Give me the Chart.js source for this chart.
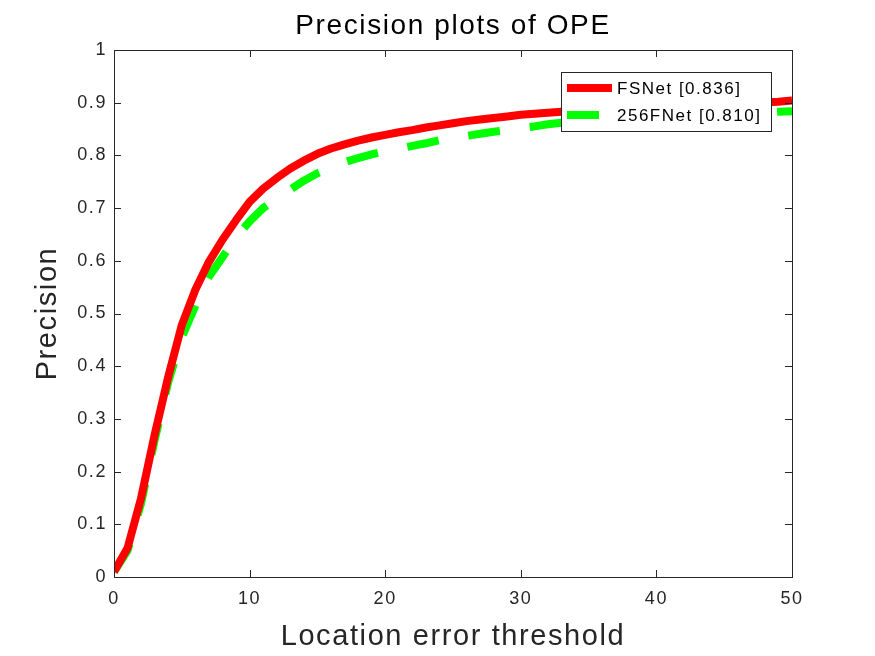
<!DOCTYPE html>
<html>
<head>
<meta charset="utf-8">
<script src="https://cdn.jsdelivr.net/npm/chart.js@4/dist/chart.umd.min.js"></script>
<style>
  html, body { margin: 0; padding: 0; background: #fff; }
  #wrap { width: 875px; height: 656px; }
</style>
</head>
<body>
<div id="wrap"><canvas id="chart" width="875" height="656"></canvas></div>
<script>
// Location error thresholds 0..50
const thresholds = [0,1,2,3,4,5,6,7,8,9,10,11,12,13,14,15,16,17,18,19,20,21,22,23,24,25,
    26,27,28,29,30,31,32,33,34,35,36,37,38,39,40,41,42,43,44,45,46,47,48,49,50];

// values
const fsnet = [0.010,0.055,0.150,0.270,0.380,0.478,0.545,0.598,0.640,0.677,0.712,0.737,0.757,0.775,0.790,0.803,
    0.813,0.821,0.828,0.834,0.839,0.844,0.848,0.853,0.857,0.861,0.865,0.868,0.871,0.874,0.877,0.879,0.881,
    0.883,0.885,0.887,0.888,0.890,0.891,0.892,0.893,0.894,0.895,0.896,0.897,0.898,0.899,0.900,0.901,0.902,0.904];
const fnet256 = [0.010,0.050,0.140,0.260,0.370,0.455,0.515,0.570,0.607,0.645,0.675,0.700,0.718,0.735,0.752,0.766,
    0.777,0.787,0.795,0.802,0.808,0.813,0.818,0.823,0.829,0.833,0.837,0.841,0.845,0.848,0.852,0.855,0.859,
    0.862,0.864,0.866,0.868,0.870,0.871,0.872,0.873,0.874,0.875,0.876,0.877,0.878,0.879,0.880,0.882,0.883,0.884];

const seriesLabels = ['FSNet [0.836]', '256FNet [0.810]'];
const xTicks = [0, 10, 20, 30, 40, 50];
const yTicks = [0, 0.1, 0.2, 0.3, 0.4, 0.5, 0.6, 0.7, 0.8, 0.9, 1];

const AXIS_COLOR = '#262626';
const FONT = "'Liberation Sans', Arial, sans-serif";

// matlab renders text a bit wider than arial, add some letter spacing
const spacingPlugin = {
    id: 'letterSpacing',
    beforeDraw(chart) {
        chart.ctx.letterSpacing = '1.6px';
    }
};

// MATLAB style box with inward ticks on all four sides
const boxPlugin = {
    id: 'matlabBox',
    afterDraw(chart) {
        const { ctx, chartArea: a, scales: { x, y } } = chart;
        const len = 7;
        ctx.save();
        ctx.strokeStyle = AXIS_COLOR;
        ctx.lineWidth = 1;
        ctx.strokeRect(a.left + 0.5, a.top + 0.5, a.right - a.left, a.bottom - a.top);
        ctx.beginPath();
        xTicks.forEach(v => {
            const px = Math.round(x.getPixelForValue(v)) + 0.5;
            ctx.moveTo(px, a.bottom); ctx.lineTo(px, a.bottom - len);
            ctx.moveTo(px, a.top); ctx.lineTo(px, a.top + len);
        });
        yTicks.forEach(v => {
            const py = Math.round(y.getPixelForValue(v)) + 0.5;
            ctx.moveTo(a.left, py); ctx.lineTo(a.left + len, py);
            ctx.moveTo(a.right, py); ctx.lineTo(a.right - len, py);
        });
        ctx.stroke();
        ctx.restore();
    }
};

// boxed legend in the upper right corner of the axes
const legendPlugin = {
    id: 'boxLegend',
    afterDraw(chart) {
        const { ctx, chartArea: a } = chart;
        const right = a.right - 21, top = a.top + 22;
        const w = 210, h = 59;
        const left = right - w;
        ctx.save();
        ctx.fillStyle = '#fff';
        ctx.fillRect(left, top, w, h);
        ctx.strokeStyle = AXIS_COLOR;
        ctx.lineWidth = 1;
        ctx.strokeRect(left + 0.5, top + 0.5, w, h);
        chart.data.datasets.forEach((ds, i) => {
            const cy = top + 16 + i * 27;
            ctx.beginPath();
            ctx.strokeStyle = ds.borderColor;
            ctx.lineWidth = ds.borderWidth;
            ctx.lineCap = 'butt';
            ctx.setLineDash(ds.borderDash || []);
            ctx.moveTo(left + 6, cy);
            ctx.lineTo(left + 51, cy);
            ctx.stroke();
            ctx.setLineDash([]);
            ctx.fillStyle = '#000';
            ctx.font = '17px ' + FONT;
            ctx.letterSpacing = '1.5px';
            ctx.textBaseline = 'middle';
            ctx.textAlign = 'left';
            ctx.fillText(ds.label, left + 56, cy + 1);
        });
        ctx.restore();
    }
};

new Chart(document.getElementById('chart'), {
    type: 'line',
    data: {
        labels: thresholds,
        datasets: [
            {
                label: seriesLabels[0],
                data: fsnet,
                borderColor: '#ff0000',
                borderWidth: 8,
                pointRadius: 0,
                tension: 0,
                borderCapStyle: 'butt',
                borderJoinStyle: 'round'
            },
            {
                label: seriesLabels[1],
                data: fnet256,
                borderColor: '#00ff00',
                borderWidth: 8,
                borderDash: [32, 30],
                pointRadius: 0,
                tension: 0,
                borderCapStyle: 'butt',
                borderJoinStyle: 'round'
            }
        ]
    },
    options: {
        responsive: false,
        animation: false,
        layout: { padding: { left: 0, right: 83, top: 0, bottom: 0 } },
        plugins: {
            legend: { display: false },
            tooltip: { enabled: false },
            title: {
                display: true,
                fullSize: false,
                text: 'Precision plots of OPE',
                color: '#000',
                font: { family: FONT, size: 28, weight: 'normal', lineHeight: 1.2 },
                padding: { top: 9.5, bottom: 6.9 }
            }
        },
        scales: {
            x: {
                type: 'linear',
                min: 0,
                max: 50,
                afterFit: s => { s.height = 79; },
                afterBuildTicks: s => { s.ticks = xTicks.map(v => ({ value: v })); },
                grid: { display: false, drawTicks: false },
                border: { display: false },
                ticks: {
                    color: AXIS_COLOR,
                    padding: 11,
                    maxRotation: 0,
                    font: { family: FONT, size: 18 },
                    callback: v => String(v)
                },
                title: {
                    display: true,
                    text: 'Location error threshold',
                    color: AXIS_COLOR,
                    font: { family: FONT, size: 29, lineHeight: 1.2 },
                    padding: { top: 0, bottom: 2 }
                }
            },
            y: {
                type: 'linear',
                min: 0,
                max: 1,
                afterFit: s => { s.width = 114; },
                afterBuildTicks: s => { s.ticks = yTicks.map(v => ({ value: v })); },
                grid: { display: false, drawTicks: false },
                border: { display: false },
                ticks: {
                    color: AXIS_COLOR,
                    padding: 7,
                    font: { family: FONT, size: 18 },
                    callback: v => String(Math.round(v * 10) / 10)
                },
                title: {
                    display: true,
                    text: 'Precision',
                    color: AXIS_COLOR,
                    font: { family: FONT, size: 29, lineHeight: 1.2 },
                    padding: { top: 31, bottom: 0 }
                }
            }
        }
    },
    plugins: [spacingPlugin, boxPlugin, legendPlugin]
});
</script>
</body>
</html>
